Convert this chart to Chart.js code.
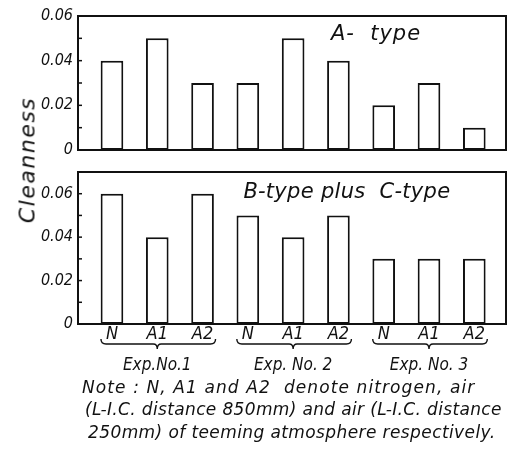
<!DOCTYPE html>
<html>
<head>
<meta charset="utf-8">
<script src="https://cdn.jsdelivr.net/npm/chart.js@4/dist/chart.umd.min.js"></script>
<style>
  html, body { margin: 0; padding: 0; background: #fff; }
  #wrap { position: relative; width: 509px; height: 451px; overflow: hidden; font-family: 'DejaVu Sans', sans-serif; font-style: italic; color: #111; }
  canvas { position: absolute; left: 0; }
  #ylab { position: absolute; left: 27px; top: 160px; transform: translate(-50%, -50%) rotate(-90deg); font-size: 22px; letter-spacing: 1.5px; white-space: nowrap; }
  .note { position: absolute; font-size: 17px; white-space: nowrap; }
</style>
</head>
<body>
<div id="wrap">
  <canvas id="c1" width="509" height="170" style="top:0px"></canvas>
  <canvas id="c2" width="509" height="220" style="top:160px"></canvas>
  <div id="ylab">Cleanness</div>
  <div class="note" style="left:82px; top:377px; letter-spacing:1.1px;">Note : N, A1 and A2 &nbsp;denote nitrogen, air</div>
  <div class="note" style="left:85px; top:399px; letter-spacing:0.35px;">(L-I.C. distance 850mm) and air (L-I.C. distance</div>
  <div class="note" style="left:88px; top:422px; letter-spacing:0.4px;">250mm) of teeming atmosphere respectively.</div>
</div>
<script>
const categories = ['N', 'A1', 'A2', 'N', 'A1', 'A2', 'N', 'A1', 'A2'];
const groups = ['Exp.No.1', 'Exp. No. 2', 'Exp. No. 3'];
const aType = [0.04, 0.05, 0.03, 0.03, 0.05, 0.04, 0.02, 0.03, 0.01];
const bcType = [0.06, 0.04, 0.06, 0.05, 0.04, 0.05, 0.03, 0.03, 0.03];
const topTickLabels = [0, 0.02, 0.04, 0.06];
const bottomTickLabels = [0, 0.02, 0.04, 0.06];
const panelTitles = ['A-  type', 'B-type plus  C-type'];

const NARROW = "'Liberation Sans Narrow', 'DejaVu Sans Condensed', 'Liberation Sans', sans-serif";
const WIDE = "'DejaVu Sans', sans-serif";
const INK = '#111';

function fmt(v) {
  if (Math.abs(v) < 1e-9) return '0';
  return v.toFixed(2);
}

const framePlugin = {
  id: 'frame',
  afterDatasetsDraw(chart, args, opts) {
    const a = chart.chartArea, ctx = chart.ctx;
    ctx.save();
    ctx.strokeStyle = INK;
    ctx.lineWidth = 2;
    ctx.strokeRect(a.left, a.top, a.right - a.left, a.bottom - a.top);
    const y = chart.scales.y;
    ctx.lineWidth = 1.5;
    for (let k = 0; k * 0.01 <= y.max + 1e-9; k++) {
      const py = y.getPixelForValue(k * 0.01);
      ctx.beginPath();
      ctx.moveTo(a.left, py);
      ctx.lineTo(a.left + 4, py);
      ctx.stroke();
    }
    ctx.fillStyle = INK;
    ctx.font = 'italic 21px ' + WIDE;
    ctx.letterSpacing = opts.ls;
    ctx.textAlign = 'center';
    ctx.textBaseline = 'middle';
    ctx.fillText(opts.title, opts.tx, a.top + opts.ty);
    ctx.restore();
  }
};

const bracePlugin = {
  id: 'braces',
  afterDraw(chart) {
    const x = chart.scales.x, ctx = chart.ctx, a = chart.chartArea;
    ctx.save();
    ctx.strokeStyle = INK;
    ctx.fillStyle = INK;
    ctx.lineWidth = 1.4;
    const yb = a.bottom + 20;
    for (let g = 0; g < groups.length; g++) {
      const x0 = x.getPixelForValue(g * 3) - 11;
      const x2 = x.getPixelForValue(g * 3 + 2) + 13;
      const xm = x.getPixelForValue(g * 3 + 1);
      ctx.beginPath();
      ctx.moveTo(x0, yb - 5);
      ctx.quadraticCurveTo(x0, yb, x0 + 5, yb);
      ctx.lineTo(xm - 4, yb);
      ctx.quadraticCurveTo(xm, yb, xm, yb + 5);
      ctx.quadraticCurveTo(xm, yb, xm + 4, yb);
      ctx.lineTo(x2 - 5, yb);
      ctx.quadraticCurveTo(x2, yb, x2, yb - 5);
      ctx.stroke();
      ctx.font = 'italic 17px ' + NARROW;
      ctx.textAlign = 'center';
      ctx.textBaseline = 'middle';
      ctx.fillText(groups[g], xm, a.bottom + 42);
    }
    ctx.restore();
  }
};

function makeChart(id, values, yMax, tickLabels, title, tx, ty, ls, showX, padTop, padBottom) {
  return new Chart(document.getElementById(id), {
    type: 'bar',
    data: {
      datasets: [{
        data: values.map((v, i) => ({ x: i, y: v })),
        backgroundColor: '#ffffff',
        borderColor: INK,
        borderWidth: 2,
        borderSkipped: false,
        barPercentage: 0.5,
        categoryPercentage: 1.0
      }]
    },
    options: {
      responsive: false,
      animation: false,
      devicePixelRatio: 1,
      layout: { padding: { left: 0, right: 3, top: padTop, bottom: padBottom } },
      plugins: {
        legend: { display: false },
        tooltip: { enabled: false },
        frame: { title: title, tx: tx, ty: ty, ls: ls }
      },
      scales: {
        x: {
          type: 'linear',
          min: -0.75,
          max: 8.7,
          offset: false,
          display: showX,
          grid: { display: false, drawTicks: false },
          border: { display: false },
          afterBuildTicks: (s) => { s.ticks = categories.map((_, i) => ({ value: i })); },
          afterFit: (s) => { if (showX) { s.height = 56; } s.paddingLeft = 0; s.paddingRight = 0; },
          ticks: {
            autoSkip: false,
            maxRotation: 0,
            padding: 0,
            color: INK,
            font: { family: NARROW, size: 18, style: 'italic' },
            callback: (v) => categories[v]
          }
        },
        y: {
          min: 0,
          max: yMax,
          afterBuildTicks: (s) => { s.ticks = tickLabels.map(v => ({ value: v })); },
          afterFit: (s) => { s.width = 78; s.paddingTop = 0; s.paddingBottom = 0; },
          grid: { display: false, drawTicks: false },
          border: { display: false },
          ticks: {
            padding: 5,
            color: INK,
            font: { family: NARROW, size: 16, style: 'italic' },
            callback: (v) => fmt(v)
          }
        }
      }
    },
    plugins: showX ? [framePlugin, bracePlugin] : [framePlugin]
  });
}

makeChart('c1', aType, 0.06, topTickLabels, panelTitles[0], 376, 19, '1px', false, 16, 20);
makeChart('c2', bcType, 0.07, bottomTickLabels, panelTitles[1], 347, 21, '0.3px', true, 12, 0);
</script>
</body>
</html>
